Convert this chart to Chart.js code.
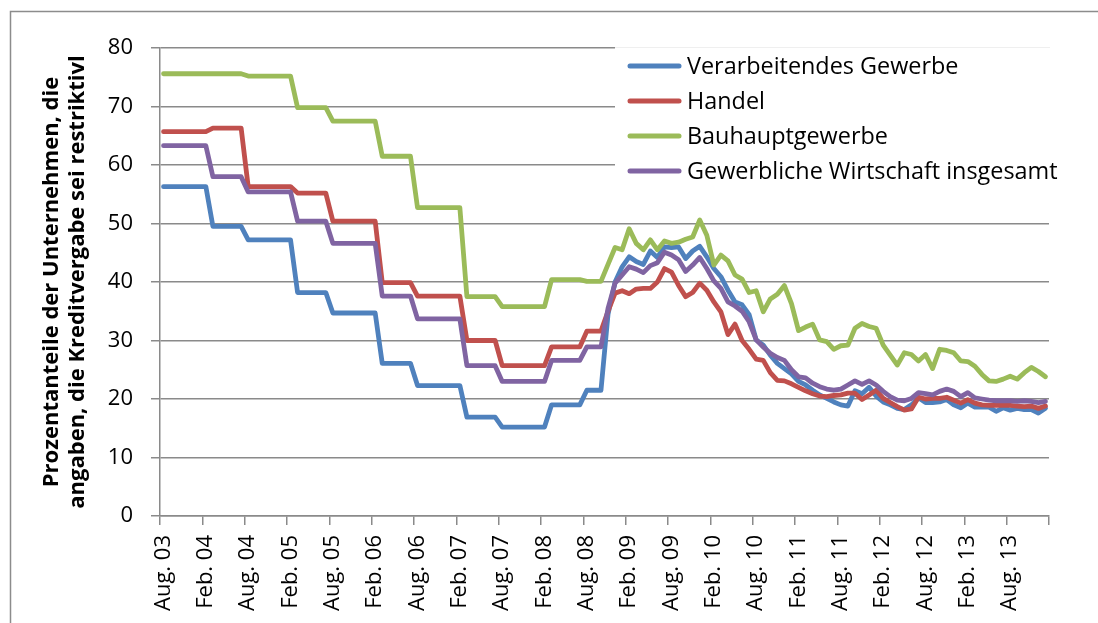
<!DOCTYPE html>
<html><head><meta charset="utf-8">
<script src="https://cdn.jsdelivr.net/npm/chart.js@4.4.1/dist/chart.umd.min.js"></script>
<style>html,body{margin:0;padding:0;background:#fff;}#wrap{width:1098px;height:623px;}</style>
</head><body><div id="wrap"><canvas id="c" width="1098" height="623"></canvas></div>
<script>
// Monthly categories Aug. 2003 – Jan. 2014
const monthAbbr = ["Jan.","Feb.","März","Apr.","Mai","Juni","Juli","Aug.","Sep.","Okt.","Nov.","Dez."];
const categories = [];
for (let k = 0; k < 126; k++) {
  const m = (7 + k) % 12, yr = 3 + Math.floor((7 + k) / 12);
  categories.push(monthAbbr[m] + " " + String(yr).padStart(2, "0"));
}
const yTickValues = [0,10,20,30,40,50,60,70,80];
const seriesNames = ["Verarbeitendes Gewerbe","Handel","Bauhauptgewerbe","Gewerbliche Wirtschaft insgesamt"];
const axisTitle = ["Prozentanteile der Unternehmen, die","angaben, die Kreditvergabe sei restriktivl"];

const verarbeitendes = [
56.3,56.3,56.3,56.3,56.3,56.3,56.3, 49.5,49.5,49.5,49.5,49.5,
47.2,47.2,47.2,47.2,47.2,47.2,47.2, 38.2,38.2,38.2,38.2,38.2,
34.7,34.7,34.7,34.7,34.7,34.7,34.7, 26.1,26.1,26.1,26.1,26.1,
22.3,22.3,22.3,22.3,22.3,22.3,22.3, 16.9,16.9,16.9,16.9,16.9,
15.2,15.2,15.2,15.2,15.2,15.2,15.2, 19.0,19.0,19.0,19.0,19.0,
21.5,21.5,21.5,
34.5,40.0,42.6,44.3,43.5,43.0,45.3,44.2,46.0,45.9,46.0,44.0,45.3,46.1,44.3,42.3,40.9,38.6,36.6,36.1,34.4,
30.1,29.2,27.5,26.1,25.2,24.3,23.0,22.4,21.5,20.7,20.1,19.5,19.0,18.8,21.4,20.9,22.0,20.5,19.5,19.0,18.4,
18.2,19.0,20.2,19.4,19.4,19.5,19.9,19.0,18.5,19.3,18.6,18.6,18.6,17.9,18.5,18.1,18.4,18.2,18.2,17.6,18.4];
const handel = [
65.7,65.7,65.7,65.7,65.7,65.7,65.7, 66.3,66.3,66.3,66.3,66.3,
56.3,56.3,56.3,56.3,56.3,56.3,56.3, 55.2,55.2,55.2,55.2,55.2,
50.4,50.4,50.4,50.4,50.4,50.4,50.4, 39.9,39.9,39.9,39.9,39.9,
37.6,37.6,37.6,37.6,37.6,37.6,37.6, 30.0,30.0,30.0,30.0,30.0,
25.7,25.7,25.7,25.7,25.7,25.7,25.7, 28.9,28.9,28.9,28.9,28.9,
31.6,31.6,31.6,
35.0,38.1,38.5,38.0,38.8,38.9,38.9,40.0,42.3,41.7,39.4,37.5,38.2,39.8,38.6,36.6,34.9,31.0,32.8,30.0,28.5,
26.8,26.6,24.5,23.2,23.1,22.6,22.0,21.4,20.9,20.5,20.4,20.6,20.7,21.0,21.0,19.9,20.7,21.5,20.1,19.4,18.7,
18.1,18.3,20.3,20.0,20.1,20.1,20.3,19.8,19.3,19.9,19.3,19.0,18.9,18.9,18.9,18.9,18.8,18.7,18.8,18.4,18.8];
const bauhaupt = [
75.6,75.6,75.6,75.6,75.6,75.6,75.6, 75.6,75.6,75.6,75.6,75.6,
75.2,75.2,75.2,75.2,75.2,75.2,75.2, 69.8,69.8,69.8,69.8,69.8,
67.5,67.5,67.5,67.5,67.5,67.5,67.5, 61.5,61.5,61.5,61.5,61.5,
52.7,52.7,52.7,52.7,52.7,52.7,52.7, 37.5,37.5,37.5,37.5,37.5,
35.8,35.8,35.8,35.8,35.8,35.8,35.8, 40.4,40.4,40.4,40.4,40.4,
40.1,40.1,40.1,
43.0,45.9,45.5,49.1,46.6,45.5,47.2,45.5,47.0,46.6,46.8,47.3,47.7,50.6,48.0,42.9,44.6,43.6,41.2,40.5,38.2,
38.5,34.9,37.1,37.9,39.4,36.3,31.7,32.3,32.8,30.1,29.8,28.5,29.1,29.2,32.1,32.9,32.4,32.1,29.2,27.5,25.8,
27.9,27.6,26.5,27.6,25.2,28.5,28.3,27.9,26.5,26.4,25.6,24.2,23.1,23.0,23.4,23.9,23.4,24.5,25.4,24.7,23.8];
const insgesamt = [
63.3,63.3,63.3,63.3,63.3,63.3,63.3, 58.0,58.0,58.0,58.0,58.0,
55.4,55.4,55.4,55.4,55.4,55.4,55.4, 50.4,50.4,50.4,50.4,50.4,
46.6,46.6,46.6,46.6,46.6,46.6,46.6, 37.6,37.6,37.6,37.6,37.6,
33.7,33.7,33.7,33.7,33.7,33.7,33.7, 25.7,25.7,25.7,25.7,25.7,
23.0,23.0,23.0,23.0,23.0,23.0,23.0, 26.6,26.6,26.6,26.6,26.6,
28.9,28.9,28.9,
35.5,39.8,41.2,42.6,42.2,41.6,42.8,43.3,45.1,44.6,43.8,41.8,42.9,44.2,42.3,40.2,38.9,36.6,35.9,35.0,33.2,
30.1,28.9,27.8,27.1,26.6,25.0,23.8,23.6,22.7,22.1,21.7,21.5,21.7,22.4,23.1,22.5,23.1,22.4,21.3,20.4,19.8,
19.7,20.1,21.1,20.9,20.7,21.3,21.7,21.3,20.4,21.1,20.2,20.0,19.8,19.7,19.7,19.7,19.6,19.7,19.6,19.4,19.6];

const colors = ["#4F81BD","#C0504D","#9BBB59","#8064A2"];
const seriesValues = [verarbeitendes, handel, bauhaupt, insgesamt];
const gridColor = "#8a8a8a";
const FONT = "'Open Sans'";

const framePlugin = {
  id: "frame",
  beforeDraw(chart) {
    const c = chart.ctx;
    c.save();
    c.fillStyle = "#fff"; c.fillRect(0, 0, chart.width, chart.height);
    c.strokeStyle = "#8c8c8c"; c.lineWidth = 1.5;
    c.beginPath(); c.moveTo(10.5, chart.height); c.lineTo(10.5, 11.5); c.lineTo(chart.width, 11.5); c.stroke();
    c.restore();
  }
};
const legendPlugin = {
  id: "boxLegend",
  beforeDatasetsDraw(chart) {
    const c = chart.ctx;
    const x0 = 615, y0 = 47, w = chart.chartArea.right - x0 + 1, h = 150;
    c.save();
    c.fillStyle = "#fff"; c.fillRect(x0, y0 - 1, w, h);
    c.strokeStyle = "#efefef"; c.lineWidth = 1;
    c.beginPath(); c.moveTo(x0, y0 + 0.5); c.lineTo(x0 + w, y0 + 0.5); c.stroke();
    c.font = "23.4px " + FONT; c.fillStyle = "#000"; c.textBaseline = "alphabetic";
    chart.data.datasets.forEach((ds, k) => {
      const base = 74 + k * 35;
      c.strokeStyle = ds.borderColor; c.lineWidth = 5; c.lineCap = "round";
      c.beginPath(); c.moveTo(630, base - 8); c.lineTo(679, base - 8); c.stroke();
      c.fillText(ds.label, 687, base);
    });
    c.restore();
  }
};

new Chart(document.getElementById("c"), {
  type: "line",
  data: {
    labels: categories,
    datasets: seriesNames.map((n, k) => ({
      label: n, data: seriesValues[k], borderColor: colors[k], backgroundColor: colors[k],
      borderWidth: 4.8, pointRadius: 0, tension: 0, borderJoinStyle: "round", borderCapStyle: "round",
      order: 4 - k
    }))
  },
  options: {
    responsive: false, animation: false, devicePixelRatio: 1,
    layout: { padding: { left: 0, right: 49, top: 48, bottom: 0 } },
    plugins: { legend: { display: false }, tooltip: { enabled: false } },
    scales: {
      x: {
        offset: true,
        grid: {
          offset: true, drawOnChartArea: false, tickLength: 9, lineWidth: 1.5,
          color: ctx => (ctx.index === undefined || ctx.index % 6 === 0) ? gridColor : "rgba(0,0,0,0)"
        },
        border: { color: gridColor, width: 1.5 },
        ticks: {
          autoSkip: false, minRotation: 90, maxRotation: 90, padding: 10, color: "#000",
          font: { family: FONT, size: 22 },
          callback(v, i) { return i % 6 === 0 ? this.getLabelForValue(v) : ""; }
        },
        afterFit(s) { s.height = 107; }
      },
      y: {
        min: 0, max: 80,
        afterBuildTicks(s) { s.ticks = yTickValues.map(v => ({ value: v })); },
        grid: { color: gridColor, lineWidth: 1.5, tickLength: 9 },
        border: { color: gridColor, width: 1.5 },
        ticks: { padding: 18, color: "#000", font: { family: FONT, size: 22 } },
        title: {
          display: true, text: axisTitle, color: "#000",
          font: { family: FONT, size: 22, weight: "bold", lineHeight: 1.18 },
          padding: { top: 39, bottom: 0 }
        },
        afterFit(s) { s.width = 160; }
      }
    }
  },
  plugins: [framePlugin, legendPlugin]
});
</script></body></html>
